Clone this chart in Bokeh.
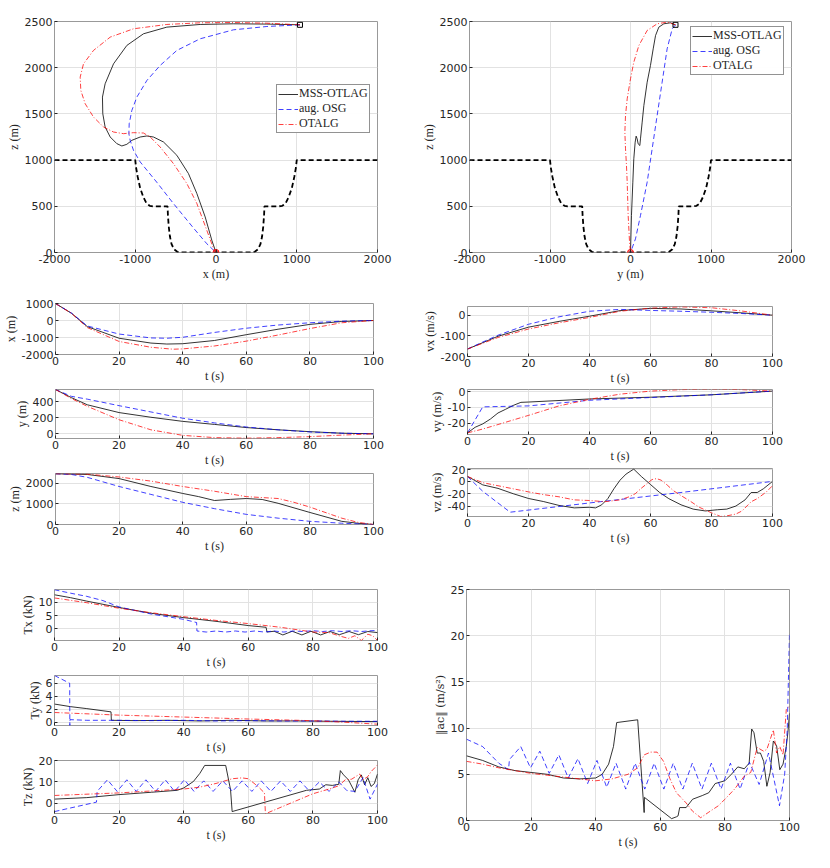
from bokeh.plotting import figure
from bokeh.layouts import row, column
from bokeh.models import Range1d, FixedTicker
from bokeh.embed import file_html
from bokeh.resources import INLINE

# --- terreno (obstaculo), comun a los dos planos ---
obs_h = [-2000, -1000, -990, -970, -940, -900, -860, -820, -780, -600, -595, -585, -570, -550, -520, -480, -440,
         440, 480, 520, 550, 570, 585, 595, 600, 780, 820, 860, 900, 940, 970, 990, 1000, 2000]
obs_z = [1000, 1000, 920, 820, 700, 600, 530, 505, 500, 500, 400, 280, 170, 90, 35, 8, 0,
         0, 8, 35, 90, 170, 280, 400, 500, 500, 505, 530, 600, 700, 820, 920, 1000, 1000]

# --- trayectorias plano x-z ---
mss_px = [1040, 630, 216, -196, -609, -898, -1104, -1269, -1373, -1406, -1402, -1373, -1310, -1228, -1166, -1104,
          -1042, -939, -856, -774, -650, -485, -341, -237, -134, -52, 0]
mss_pz = [2464, 2472, 2475, 2468, 2439, 2367, 2241, 2042, 1826, 1682, 1502, 1358, 1250, 1178, 1153, 1171,
          1214, 1250, 1261, 1250, 1196, 1052, 854, 638, 385, 133, 0]
osg_px = [1040, 630, 216, -196, -485, -692, -856, -980, -1042, -1075, -1079, -1063, -1022, -939, -733, -527, -279, -114, 0]
osg_pz = [2464, 2446, 2410, 2313, 2187, 2024, 1862, 1682, 1538, 1394, 1286, 1214, 1106, 980, 760, 530, 265, 95, 0]
otalg_px = [1040, 630, 216, -196, -609, -1022, -1310, -1517, -1641, -1682, -1674, -1620, -1517, -1393, -1269, -1145,
            -1022, -898, -815, -692, -527, -361, -237, -114, -31, 0]
otalg_pz = [2464, 2482, 2489, 2486, 2468, 2421, 2331, 2187, 2042, 1898, 1754, 1610, 1466, 1358, 1304, 1286,
            1297, 1293, 1250, 1142, 962, 746, 530, 241, 43, 0]

# --- trayectorias plano y-z ---
mss_py = [559, 497, 414, 352, 311, 282, 248, 207, 166, 145, 124, 116, 95, 83, 70, 58, 41, 29, 12, 0]
mss_pz2 = [2464, 2486, 2475, 2439, 2348, 2204, 2024, 1843, 1591, 1411, 1230, 1158, 1176, 1230, 1259, 1194, 1014, 761, 400, 0]
osg_py = [559, 518, 455, 393, 331, 269, 207, 124, 62, 0]
osg_pz2 = [2464, 2421, 2204, 1843, 1483, 1122, 761, 400, 148, 0]
otalg_py = [559, 455, 331, 207, 104, 41, 0, -41, -62, -70, -62, -50, -41, -29, -12, 0]
otalg_pz2 = [2464, 2493, 2475, 2403, 2240, 2060, 1880, 1663, 1483, 1302, 1122, 942, 761, 400, 112, 0]

# --- posiciones vs tiempo ---
tpx_a = [0, 5, 10, 20, 30, 35, 40, 50, 60, 70, 80, 90, 100]
x_mss = [1000, 430, -360, -1044, -1328, -1385, -1366, -1176, -835, -512, -228, -57, 0]
x_osg = [1000, 440, -323, -797, -1025, -1044, -987, -702, -455, -266, -133, -38, 0]
tpx_otalg = [0, 5, 10, 20, 30, 37, 40, 50, 60, 70, 80, 90, 100]
x_otalg = [1000, 420, -417, -1233, -1575, -1689, -1670, -1499, -1214, -854, -474, -133, 0]

tpy = [0, 5, 10, 20, 30, 40, 50, 60, 70, 80, 90, 100]
y_mss = [551, 450, 361, 264, 206, 155, 117, 78, 50, 27, 8, 0]
y_osg = [551, 466, 431, 350, 272, 194, 136, 85, 50, 23, 8, 0]
y_otalg = [551, 439, 342, 175, 50, -19, -47, -54, -47, -35, -16, 0]

tpz_mss = [0, 10, 20, 30, 40, 45, 50, 55, 60, 65, 70, 80, 90, 95, 100]
z_mss = [2464, 2430, 2230, 1846, 1508, 1354, 1165, 1220, 1262, 1215, 1030, 585, 154, 62, 0]
tpz_osg = [0, 5, 10, 20, 30, 40, 50, 60, 70, 80, 90, 100]
z_osg = [2464, 2430, 2290, 1846, 1462, 1077, 769, 492, 308, 154, 62, 0]
tpz_otalg = [0, 10, 20, 30, 40, 50, 60, 65, 70, 75, 80, 90, 95, 100]
z_otalg = [2464, 2446, 2308, 2108, 1846, 1615, 1354, 1308, 1262, 1077, 846, 308, 108, 0]

# --- velocidades ---
t_v = [0, 5, 10, 20, 30, 40, 50, 60, 70, 80, 90, 100]
vx_mss = [-164, -133, -102, -58, -30, -5, 22, 33, 30, 21, 11, 0]
vx_osg = [-164, -130, -97, -44, -8, 19, 28, 23, 19, 14, 8, 0]
vx_otalg = [-164, -136, -108, -67, -37, -11, 19, 34, 40, 36, 20, 0]

tvy_mss = [0, 2.5, 5, 7.5, 10, 12.5, 15, 17.5, 20, 40, 60, 80, 100]
vy_mss = [-26, -22.5, -20.4, -17.4, -13.6, -11.3, -8.9, -7, -6.8, -4.9, -3.8, -2.3, 0]
tvy_osg = [0, 5, 20, 40, 60, 80, 100]
vy_osg = [-26, -9.8, -9.2, -5.7, -4, -2.3, 0]
tvy_otalg = [0, 5, 10, 20, 30, 40, 50, 60, 70, 80, 90, 100]
vy_otalg = [-26, -23.6, -20.8, -15.1, -9.2, -5.1, -1.9, 0, 0.9, 1.3, 0.9, 0]

tvz_mss = [0, 5, 10, 15, 20, 25, 30, 35, 40, 42, 44, 46, 48, 50, 52, 54.5, 57, 60, 63, 66, 70, 74, 78, 82, 85, 88,
           91, 93, 95, 97, 100]
vz_mss = [8.2, -5.6, -11.3, -20, -27.7, -32.8, -39, -43, -42, -43, -38, -28, -12, 2, 12, 20, 8, -5, -18, -28, -38,
          -45, -48, -46, -45, -40, -30, -18, -18, -12, 0]
tvz_osg = [0, 5, 10, 14, 40, 70, 100]
vz_osg = [8, -16, -35, -50, -35, -18, 0]
tvz_otalg = [0, 5, 10, 15, 20, 25, 30, 35, 40, 45, 50, 53, 55, 57, 59, 60.5, 62, 63.5, 65.5, 67.5, 70, 73, 76, 80,
             83, 85, 88, 90, 93, 95, 98, 100]
vz_otalg = [8, -2, -7, -12, -17, -21.5, -25, -30, -31, -33, -30, -25, -20, -11, -3, 3, 4.6, 2, -6, -15, -23, -32,
            -42, -51, -57, -56, -53, -48, -33, -28, -17, -7]

# --- empuje ---
ttx_mss = [0, 5, 10, 20, 30, 40, 50, 60, 65.5, 65.8, 68, 70.7, 73.6, 76.6, 79.4, 82.4, 85.3, 88.2, 91.2, 94.1, 97, 100]
thx_mss = [12.9, 11.8, 10.5, 8.1, 5.9, 4.25, 2.85, 1.25, 0.6, -1.2, -0.9, -2.3, -0.9, -2.3, -0.9, -2.3, -1.0, -2.2,
           -1.0, -2.2, -1.0, -1.4]
ttx_osg = [0, 5, 10, 15, 20, 30, 40, 44, 44.1, 47, 50, 53, 56, 59, 62, 65, 68, 71, 74, 77, 80, 83, 86, 89, 92, 95,
           98, 100]
thx_osg = [14.8, 13.5, 12.3, 10.7, 8.3, 5.6, 3.6, 2.4, -0.8, -1.2, -0.8, -1.2, -0.8, -1.2, -0.8, -1.2, -0.8, -1.2,
           -0.8, -1.0, -0.7, -1.0, -0.7, -1.0, -0.7, -1.0, -0.7, -0.6]
ttx_otalg = [0, 10, 20, 30, 40, 50, 60, 70, 80, 85, 88, 91, 93, 95, 97, 98.5, 100]
thx_otalg = [11.7, 9.9, 7.8, 6.1, 4.6, 3.2, 2.0, 0.6, -1.2, -1.4, -2.6, -3.6, -2.6, -4.4, -2.0, -2.6, -4.4]

tty_mss = [0, 5, 10, 17.5, 17.6, 25, 35, 45, 55, 65, 75, 85, 100]
thy_mss = [2.8, 2.4, 2.1, 1.6, 0.3, 0.25, 0.3, 0.2, 0.3, 0.2, 0.2, 0.15, 0.1]
tty_osg = [0, 4.7, 4.75, 4.8, 10, 20, 30, 40, 50, 60, 70, 80, 90, 100]
thy_osg = [7.2, 6.0, -0.5, 0.4, 0.3, 0.3, 0.25, 0.3, 0.2, 0.25, 0.2, 0.2, 0.15, 0.15]
tty_otalg = [0, 20, 40, 60, 80, 90, 100]
thy_otalg = [1.5, 1.1, 0.8, 0.5, 0.24, 0.0, -0.3]

ttz_mss = [0, 10, 20, 30, 38, 40, 43, 45, 46.5, 53, 54.5, 55, 78, 80, 82, 84, 86, 88, 88.5, 89.5, 91, 93, 94, 95,
           96, 97, 98, 99, 100]
thz_mss = [2.0, 2.7, 4.1, 5.2, 6.1, 7.2, 10.2, 14, 17.7, 17.7, 6.4, -3.8, 6.1, 6.4, 6.7, 8.7, 8.4, 8.9, 15.3, 13.3,
           11, 5.2, 11, 13.3, 8.7, 12, 7.9, 9.2, 13.7]
ttz_osg = [0, 13, 13.2, 16.4, 19.4, 22.4, 25.3, 28.3, 31.3, 34.3, 37.2, 40.2, 43.2, 46.2, 49.1, 52.1, 55.1, 58.1,
           61.1, 64, 67, 70, 73, 76, 79, 82, 85, 88, 90.5, 93, 95.5, 97.7, 100]
thz_osg = [-3.8, 0.6, 5.6, 11, 5.6, 11, 5.6, 11, 5.6, 11, 5.6, 11, 5.6, 10.5, 5.6, 10.5, 5.6, 10.5, 5.6, 10.5, 5.6,
           10.5, 5.6, 10.5, 5.6, 10, 5.6, 10, 6, 5.6, 12, 2, 9]
ttz_otalg = [0, 20, 40, 45, 50, 55, 58, 60, 63, 65, 65.3, 65.5, 80, 85, 88, 90, 92, 94.5, 95.5, 97, 98, 100]
thz_otalg = [3.7, 4.9, 6.7, 7.6, 9.3, 11.5, 11.9, 11.5, 7.9, 4.9, -4.7, -4.7, 4.5, 6.7, 8.2, 11, 11.3, 13.7, 11,
             12.5, 14.8, 17.9]

# --- norma de aceleracion de control ---
tac_mss = [0, 5, 10, 15, 20, 25, 30, 35, 40, 42, 44, 45.5, 46.5, 53, 55, 55.1, 63.5, 65, 65.5, 66, 68, 70, 73, 75,
           77, 80, 82, 84, 86, 87.5, 88.3, 89, 90, 91, 92, 93, 94, 95, 96, 97, 98, 99, 99.5, 100]
ac_mss = [7.0, 6.5, 5.8, 5.4, 5.2, 5.0, 4.6, 4.5, 4.6, 5.0, 6.1, 8.0, 10.6, 10.9, 0.86, 2.5, 0.2, 0.4, 0.5, 1.4,
          1.4, 2.3, 2.7, 3.0, 4.0, 4.3, 5.0, 5.8, 5.6, 6.2, 9.9, 9.5, 7.3, 7.3, 6.4, 3.7, 5.2, 8.6, 8.1, 5.5, 6.1,
          8.0, 9.5, 11.6]
tac_osg = [0, 5, 10, 13, 13.3, 16.8, 19.8, 22.7, 25.6, 28.6, 31.5, 34.5, 37.5, 40.4, 43.4, 46.3, 49.3, 52.2, 55.2,
           58.1, 61.1, 64, 67, 69.9, 72.9, 75.8, 78.8, 81.7, 84.7, 87.6, 90.6, 93.5, 96.9, 98.5, 99.3, 100]
ac_osg = [8.8, 8.0, 6.2, 5.5, 6.6, 8.0, 5.7, 7.5, 5.1, 7.1, 4.6, 6.7, 4.0, 6.5, 3.6, 6.2, 3.4, 6.2, 3.4, 6.2, 3.4,
          6.2, 3.4, 6.2, 3.4, 6.2, 3.4, 6.2, 3.4, 6.3, 3.9, 7.3, 1.6, 5.0, 9.8, 20.3]
tac_otalg = [0, 5, 10, 15, 20, 25, 30, 35, 40, 45, 50, 53, 55, 57, 59, 61, 63, 65, 68, 70, 72.5, 75, 78, 80, 83,
             86, 88, 90, 92, 93, 95, 96, 97, 98, 99, 100]
ac_otalg = [6.4, 6.1, 5.7, 5.4, 5.1, 4.9, 4.7, 4.5, 4.3, 4.5, 5.0, 5.7, 7.1, 7.4, 7.4, 6.4, 4.5, 3.0, 1.9, 1.0,
            0.3, 0.9, 1.6, 2.3, 3.4, 4.8, 5.2, 7.9, 7.5, 7.7, 9.8, 7.3, 8.0, 7.1, 12.0, 12.4]

nombres = ["MSS-OTLAG", "aug. OSG", "OTALG"]
t_ticks = [0, 20, 40, 60, 80, 100]
GRIS = "#262626"
M = 8  # margen de pagina


def panel(w, h, bl, br, bt, bb, xr, yr, xt, yt, xlab, ylab):
    p = figure(width=w, height=h, min_border_left=bl, min_border_right=br,
               min_border_top=bt, min_border_bottom=bb,
               x_range=Range1d(*xr), y_range=Range1d(*yr),
               output_backend="svg", toolbar_location=None)
    p.xaxis.ticker = FixedTicker(ticks=xt)
    p.yaxis.ticker = FixedTicker(ticks=yt)
    # guion corto como en la figura original
    p.xaxis.major_label_overrides = {v: str(v) for v in xt}
    p.yaxis.major_label_overrides = {v: str(v) for v in yt}
    p.xaxis.axis_label = xlab
    p.yaxis.axis_label = ylab
    for ax in p.xaxis + p.yaxis:
        ax.axis_line_color = None
        ax.major_tick_in = 3
        ax.major_tick_out = 0
        ax.major_tick_line_color = GRIS
        ax.minor_tick_line_color = None
        ax.major_label_text_font = "DejaVu Sans"
        ax.major_label_text_font_size = "11px"
        ax.major_label_text_color = GRIS
        ax.major_label_standoff = 2
        ax.axis_label_text_font = "Liberation Serif"
        ax.axis_label_text_font_style = "normal"
        ax.axis_label_text_font_size = "12px"
        ax.axis_label_text_color = GRIS
        ax.axis_label_standoff = 1
    p.grid.grid_line_color = "#e2e2e2"
    p.outline_line_color = "#999999"
    p.outline_line_width = 1
    return p


def tres(p, a, b, c, ley=False):
    k1 = {"legend_label": nombres[0]} if ley else {}
    k2 = {"legend_label": nombres[1]} if ley else {}
    k3 = {"legend_label": nombres[2]} if ley else {}
    p.line(a[0], a[1], line_color="#000000", line_width=1, line_alpha=0.8, **k1)
    p.line(b[0], b[1], line_color="#0000ff", line_width=1, line_alpha=0.75, line_dash="5 3", **k2)
    p.line(c[0], c[1], line_color="#ff0000", line_width=1, line_alpha=0.75, line_dash="5 2 1 2", **k3)


def leyenda(p, loc):
    lg = p.legend[0]
    lg.location = loc
    lg.label_text_font = "Liberation Serif"
    lg.label_text_font_size = "12px"
    lg.label_text_color = GRIS
    lg.glyph_width = 20
    lg.glyph_height = 14
    lg.label_height = 14
    lg.label_standoff = 1
    lg.spacing = 0
    lg.padding = 1
    lg.margin = 0
    lg.border_line_color = GRIS
    lg.border_line_width = 1


def trayectoria(p, a, b, c, loc):
    p.line(obs_h, obs_z, line_color="black", line_width=1.8, line_dash="5 3")
    tres(p, a, b, c, ley=True)
    p.scatter([a[0][0]], [a[1][0]], marker="square", size=5, line_color="black", fill_color=None)
    p.scatter([0], [0], marker="circle", size=6, line_color="#ff0000", fill_color="#ff0000", fill_alpha=0.3)
    leyenda(p, loc)


# fila 1: planos x-z, y-z
a1 = panel(410 + M, 282 + M, 46 + M, 41, 13 + M, 38, (-2000, 2000), (0, 2500), [-2000, -1000, 0, 1000, 2000],
           [0, 500, 1000, 1500, 2000, 2500], "x (m)", "z (m)")
trayectoria(a1, (mss_px, mss_pz), (osg_px, osg_pz), (otalg_px, otalg_pz), (222, 119))
a2 = panel(404, 282 + M, 51, 31, 13 + M, 38, (-2000, 2000), (0, 2500), [-2000, -1000, 0, 1000, 2000],
           [0, 500, 1000, 1500, 2000, 2500], "y (m)", "z (m)")
trayectoria(a2, (mss_py, mss_pz2), (osg_py, osg_pz2), (otalg_py, otalg_pz2), (221, 177))

# fila 2: posiciones y velocidades
b1 = panel(410 + M, 95, 45 + M, 45, 13, 29, (0, 100), (-2000, 1000), t_ticks, [-2000, -1000, 0, 1000], "t (s)", "x (m)")
tres(b1, (tpx_a, x_mss), (tpx_a, x_osg), (tpx_otalg, x_otalg))
b2 = panel(410 + M, 84, 45 + M, 45, 4, 28, (0, 100), (-58, 551), t_ticks, [0, 200, 400], "t (s)", "y (m)")
tres(b2, (tpy, y_mss), (tpy, y_osg), (tpy, y_otalg))
b3 = panel(410 + M, 86, 45 + M, 45, 4, 28, (0, 100), (0, 2477), t_ticks, [0, 1000, 2000], "t (s)", "z (m)")
tres(b3, (tpz_mss, z_mss), (tpz_osg, z_osg), (tpz_otalg, z_otalg))

b4 = panel(404, 97, 49, 50, 16, 29, (0, 100), (-200, 42), t_ticks, [-200, -100, 0], "t (s)", "vx (m/s)")
tres(b4, (t_v, vx_mss), (t_v, vx_osg), (t_v, vx_otalg))
b5 = panel(404, 78, 49, 50, 2, 26, (0, 100), (-27, 1), t_ticks, [-20, -10, 0], "t (s)", "vy (m/s)")
tres(b5, (tvy_mss, vy_mss), (tvy_osg, vy_osg), (tvy_otalg, vy_otalg))
b6 = panel(404, 82, 49, 50, 3, 28, (0, 100), (-57, 21), t_ticks, [-40, -20, 0, 20], "t (s)", "vz (m/s)")
tres(b6, (tvz_mss, vz_mss), (tvz_osg, vz_osg), (tvz_otalg, vz_otalg))

# fila 3: empuje y aceleracion
c1 = panel(410 + M, 116, 46 + M, 41, 34, 28, (0, 100), (-4.4, 14.9), t_ticks, [0, 5, 10], "t (s)", "Tx (kN)")
tres(c1, (ttx_mss, thx_mss), (ttx_osg, thx_osg), (ttx_otalg, thx_otalg))
c2 = panel(410 + M, 85, 46 + M, 41, 4, 27, (0, 100), (-0.5, 7.2), t_ticks, [0, 2, 4, 6], "t (s)", "Ty (kN)")
tres(c2, (tty_mss, thy_mss), (tty_osg, thy_osg), (tty_otalg, thy_otalg))
c3 = panel(410 + M, 88, 46 + M, 41, 4, 30, (0, 100), (-4.7, 20), t_ticks, [0, 10, 20], "t (s)", "Tz (kN)")
tres(c3, (ttz_mss, thz_mss), (ttz_osg, thz_osg), (ttz_otalg, thz_otalg))

c4 = panel(404, 296, 48, 33, 34, 30, (0, 100), (0, 25), t_ticks, [0, 5, 10, 15, 20, 25], "t (s)", "‖ac‖ (m/s²)")
c4.yaxis.axis_label_text_font = "DejaVu Serif"
c4.yaxis.axis_label_text_font_size = "11px"
tres(c4, (tac_mss, ac_mss), (tac_osg, ac_osg), (tac_otalg, ac_otalg))

lay = column(row(a1, a2),
             row(column(b1, b2, b3), column(b4, b5, b6)),
             row(column(c1, c2, c3), c4))

open("out.html", "w").write(file_html(lay, INLINE))
